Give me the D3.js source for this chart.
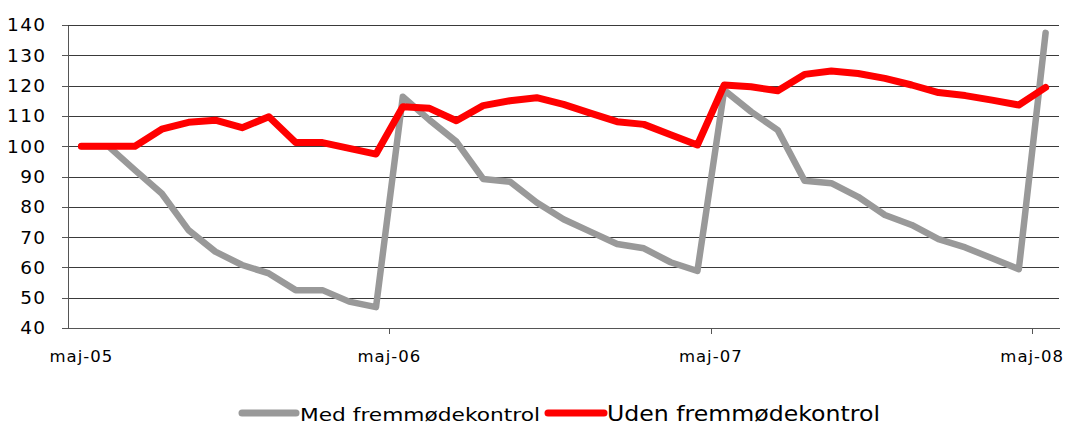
<!DOCTYPE html>
<html><head><meta charset="utf-8">
<script src="https://cdn.jsdelivr.net/npm/d3@7"></script>
<style>html,body{margin:0;padding:0;background:#fff;}svg{display:block;}</style>
</head><body>
<svg id="chart" width="1081" height="426"></svg>
<script>
const categories = ["maj-05","jun-05","jul-05","aug-05","sep-05","okt-05","nov-05","dec-05","jan-06","feb-06","mar-06","apr-06",
  "maj-06","jun-06","jul-06","aug-06","sep-06","okt-06","nov-06","dec-06","jan-07","feb-07","mar-07","apr-07",
  "maj-07","jun-07","jul-07","aug-07","sep-07","okt-07","nov-07","dec-07","jan-08","feb-08","mar-08","apr-08","maj-08"];
const medValues = [100,100,92.1,84.4,72.3,65.2,60.8,58.0,52.5,52.5,48.7,46.9,
  116.3,108.6,101.5,89.2,88.3,81.4,75.9,71.8,67.7,66.3,61.7,58.8,
  118.5,111.4,105.3,88.6,87.8,83.3,77.3,74.0,69.3,66.6,63.0,59.4,137.4];
const udenValues = [100,100,100,105.6,107.9,108.6,106.1,109.7,101.2,101.2,99.3,97.4,
  113.0,112.5,108.4,113.4,115.0,116.0,113.8,110.9,108.1,107.2,103.8,100.4,
  120.2,119.6,118.3,123.7,124.8,124.0,122.4,120.2,117.7,116.7,115.2,113.6,119.4];
const yTicks = [40,50,60,70,80,90,100,110,120,130,140];
const xTickLabels = ["maj-05","maj-06","maj-07","maj-08"];
const seriesNames = ["Med fremmødekontrol","Uden fremmødekontrol"];
const seriesColors = ["#999999","#ff0000"];

const svg = d3.select("#chart");
const L = 68, R = 1059, T = 25, B = 328;
const x = d3.scaleLinear().domain([-0.5, categories.length - 0.5]).range([L, R]);
const y = d3.scaleLinear().domain([40, 140]).range([B, T]);

// gridlines
svg.append("g").attr("transform", `translate(${L},0)`)
  .call(d3.axisLeft(y).tickValues(yTicks.filter(v => v > 40)).tickSize(-(R - L)).tickFormat(""))
  .call(g => g.select(".domain").remove())
  .call(g => g.selectAll("line").attr("stroke", "#3a3a3a").attr("shape-rendering", "crispEdges"));

// y axis
const yAx = svg.append("g").attr("transform", `translate(${L},0)`)
  .call(d3.axisLeft(y).tickValues(yTicks).tickSize(6).tickSizeOuter(0).tickPadding(17));
yAx.select(".domain").attr("stroke", "#555").attr("shape-rendering", "crispEdges");
yAx.selectAll("line").attr("stroke", "#555").attr("shape-rendering", "crispEdges");
yAx.selectAll("text").attr("font-family", "DejaVu Sans, Verdana, sans-serif").attr("font-size", 18.5)
  .attr("fill", "#000").attr("letter-spacing", "1.3px").attr("dx", "1.3px");

// x axis
const tickIdx = xTickLabels.map(l => categories.indexOf(l) - 0.5);
const xAx = svg.append("g").attr("transform", `translate(0,${B})`)
  .call(d3.axisBottom(x).tickValues(tickIdx.slice(1)).tickSize(6).tickSizeOuter(0).tickFormat(""));
xAx.select(".domain").attr("stroke", "#555").attr("shape-rendering", "crispEdges");
xAx.selectAll("line").attr("stroke", "#555").attr("shape-rendering", "crispEdges");

svg.append("g").selectAll("text").data(xTickLabels).join("text")
  .attr("x", (d, i) => x(Math.max(0, tickIdx[i])))
  .attr("y", 362)
  .attr("text-anchor", "middle")
  .attr("font-family", "DejaVu Sans, Verdana, sans-serif")
  .attr("font-size", 16.5)
  .attr("letter-spacing", "1px")
  .attr("fill", "#000")
  .text(d => d);

// lines
const line = d3.line().x((d, i) => x(i)).y(d => y(d)).curve(d3.curveLinear);
[medValues, udenValues].forEach((vals, k) => {
  svg.append("path").datum(vals)
    .attr("d", line)
    .attr("fill", "none")
    .attr("stroke", seriesColors[k])
    .attr("stroke-width", k === 0 ? 6.5 : 7)
    .attr("stroke-linejoin", "round")
    .attr("stroke-linecap", "round");
});

// legend
const legend = [
  {x1: 242, x2: 296, tx: 300, tw: 240, fs: 18, by: 421},
  {x1: 548, x2: 604, tx: 607, tw: 273, fs: 21, by: 421}
];
legend.forEach((lg, k) => {
  svg.append("line").attr("x1", lg.x1).attr("x2", lg.x2).attr("y1", 413).attr("y2", 413)
    .attr("stroke", seriesColors[k]).attr("stroke-width", 7).attr("stroke-linecap", "round");
  svg.append("text").attr("x", lg.tx).attr("y", lg.by)
    .attr("font-family", "DejaVu Sans, Verdana, sans-serif")
    .attr("font-size", lg.fs)
    .attr("textLength", lg.tw).attr("lengthAdjust", "spacingAndGlyphs")
    .attr("fill", "#000")
    .text(seriesNames[k]);
});
</script>
</body></html>
